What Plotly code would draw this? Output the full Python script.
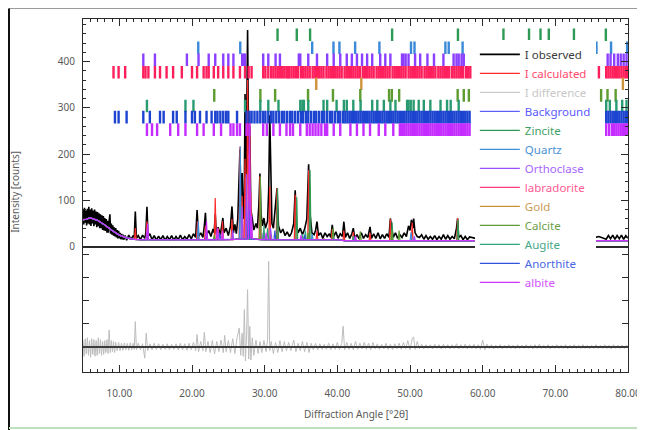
import plotly.graph_objects as go

# ---------------- data ----------------
bg_angle = list(range(5, 81))
bg_counts = [58, 62, 57, 47, 35, 25, 19, 16, 15, 15, 15, 15, 15, 15, 15, 15, 15, 15, 15, 15, 15,
             16, 17, 17, 16, 15, 15, 15, 15, 15, 15, 15, 15, 15, 15, 15,
             13, 13, 13, 13, 13, 13, 13, 13, 13, 13, 13, 13, 13, 13, 13, 13, 13, 13, 13, 13,
             13, 13, 13, 13, 13, 13, 13, 13, 13, 13, 13, 13, 13, 13, 13, 13, 13, 13, 13, 13]

observed_pts = [
    (5.0, 80), (5.1, 48), (5.2, 84), (5.3, 52), (5.4, 78), (5.5, 46), (5.6, 82), (5.7, 50), (5.8, 86), (5.9, 48),
    (6.0, 80), (6.1, 45), (6.2, 83), (6.3, 50), (6.4, 78), (6.5, 44), (6.6, 80), (6.7, 48), (6.8, 76), (6.9, 42),
    (7.0, 75), (7.1, 44), (7.2, 72), (7.3, 40), (7.4, 70), (7.5, 40), (7.6, 68), (7.7, 36), (7.8, 66), (7.9, 35),
    (8.0, 62), (8.1, 34), (8.2, 60), (8.3, 30), (8.4, 56), (8.5, 30), (8.6, 55), (8.7, 70), (8.8, 28), (8.9, 50),
    (9.0, 26), (9.1, 46), (9.2, 24), (9.3, 42), (9.4, 22), (9.5, 40), (9.6, 20), (9.7, 36), (9.8, 18), (9.9, 34),
    (10.0, 18), (10.1, 30), (10.2, 16), (10.3, 28), (10.4, 16), (10.5, 26), (10.6, 15), (10.8, 24), (11.0, 14),
    (11.3, 25), (11.6, 15), (11.9, 24), (12.05, 20), (12.2, 76), (12.35, 18), (12.6, 24), (12.9, 15), (13.2, 25),
    (13.5, 18), (13.65, 30), (13.8, 86), (13.95, 22), (14.2, 28), (14.5, 15), (14.8, 24), (15.1, 14), (15.4, 23),
    (15.7, 15), (16.0, 24), (16.3, 14), (16.6, 22), (16.9, 15), (17.2, 24), (17.5, 14), (17.8, 22), (18.1, 15),
    (18.4, 25), (18.7, 15), (19.0, 22), (19.3, 16), (19.6, 26), (19.9, 17), (20.2, 28), (20.5, 20), (20.7, 79),
    (20.9, 22), (21.2, 30), (21.5, 20), (21.7, 45), (21.85, 73), (22.0, 25), (22.3, 35), (22.6, 22), (22.9, 38),
    (23.05, 30), (23.2, 70), (23.35, 28), (23.6, 42), (23.9, 26), (24.1, 50), (24.25, 62), (24.4, 30), (24.7, 40),
    (25.0, 24), (25.3, 45), (25.5, 87), (25.7, 30), (25.9, 48), (26.1, 28), (26.3, 60), (26.45, 150), (26.6, 210),
    (26.75, 90), (26.9, 159), (27.05, 60), (27.2, 120), (27.3, 330), (27.45, 150), (27.65, 468), (27.8, 200),
    (27.95, 260), (28.1, 80), (28.3, 60), (28.5, 36), (28.8, 50), (29.0, 40), (29.2, 90), (29.35, 158), (29.5, 70),
    (29.7, 45), (29.9, 62), (30.1, 40), (30.4, 55), (30.55, 120), (30.7, 284), (30.85, 110), (31.0, 50), (31.2, 40),
    (31.45, 80), (31.7, 126), (31.9, 45), (32.2, 30), (32.5, 38), (32.8, 24), (33.1, 32), (33.4, 22), (33.7, 30),
    (34.0, 50), (34.2, 122), (34.4, 45), (34.6, 30), (34.9, 40), (35.2, 26), (35.5, 38), (35.8, 60), (36.05, 178),
    (36.25, 70), (36.5, 30), (36.8, 26), (37.0, 35), (37.2, 54), (37.4, 24), (37.7, 30), (38.0, 18), (38.3, 30),
    (38.6, 22), (38.9, 28), (39.1, 20), (39.3, 47), (39.5, 22), (39.8, 32), (40.1, 18), (40.4, 28), (40.7, 22),
    (40.9, 54), (41.1, 20), (41.4, 30), (41.7, 18), (42.0, 28), (42.2, 40), (42.4, 18), (42.7, 26), (43.0, 17),
    (43.3, 30), (43.6, 18), (43.9, 26), (44.2, 20), (44.5, 43), (44.7, 18), (45.0, 28), (45.3, 18), (45.6, 30),
    (45.9, 17), (46.2, 26), (46.5, 18), (46.8, 28), (47.1, 20), (47.3, 61), (47.5, 38), (47.7, 20), (48.0, 30),
    (48.3, 18), (48.6, 26), (48.9, 20), (49.2, 30), (49.5, 22), (49.8, 45), (50.0, 35), (50.2, 58), (50.4, 40),
    (50.5, 61), (50.7, 30), (51.0, 22), (51.3, 20), (51.6, 26), (51.9, 16), (52.2, 24), (52.5, 16), (52.8, 22),
    (53.1, 16), (53.4, 24), (53.7, 15), (54.0, 22), (54.3, 16), (54.6, 26), (54.9, 16), (55.2, 24), (55.5, 16),
    (55.8, 22), (56.1, 17), (56.4, 40), (56.55, 61), (56.7, 20), (57.0, 24), (57.3, 15), (57.6, 22), (57.9, 15),
    (58.2, 21), (59, 18), (60, 22), (61, 16), (62, 24), (63, 18), (64, 20), (65, 16), (66, 22), (67, 18), (68, 24),
    (69, 16), (70, 20), (71, 18), (72, 22), (73, 16), (74, 20), (75, 18), (76, 22), (77, 16), (77.3, 24), (77.6, 17),
    (77.9, 25), (78.2, 16), (78.5, 24), (78.8, 17), (79.1, 25), (79.4, 16), (79.7, 24), (80.0, 18),
]

calc_peak_angle = [12.2, 13.8, 20.75, 21.85, 23.2, 24.2, 25.5, 26.6, 26.9, 27.3, 27.65, 27.95, 29.35, 30.7,
                   31.7, 34.2, 36.05, 37.2, 39.3, 40.9, 42.2, 44.5, 47.3, 50.3, 56.55, 62.86, 67.96]
calc_peak_counts = [40, 55, 55, 45, 105, 55, 60, 216, 110, 190, 360, 280, 152, 130,
                    126, 112, 165, 35, 38, 35, 32, 30, 60, 52, 62, 50, 40]

difference_pts = [
    (5.0, 15), (5.15, -20), (5.3, 18), (5.45, -15), (5.6, 20), (5.75, -18), (5.9, 14), (6.05, -22), (6.2, 18),
    (6.35, -16), (6.5, 16), (6.65, -20), (6.8, 14), (6.95, -18), (7.1, 20), (7.25, -14), (7.4, 16), (7.55, -18),
    (7.7, 12), (7.85, -16), (8.0, 14), (8.15, -12), (8.3, 16), (8.45, -14), (8.6, 37), (8.75, -12), (8.9, 14),
    (9.05, -10), (9.2, 12), (9.35, -12), (9.5, 10), (9.7, -8), (9.9, 10), (10.1, -8), (10.3, 8), (10.5, -7),
    (10.7, 9), (10.9, -6), (11.1, 8), (11.3, -7), (11.5, 9), (11.7, -6), (11.9, 8), (12.05, -5), (12.2, 55),
    (12.35, -6), (12.6, 8), (12.9, -6), (13.2, 7), (13.5, -24), (13.7, 30), (13.9, -8), (14.2, 7), (14.5, -6),
    (14.8, 8), (15.1, -5), (15.4, 7), (15.7, -6), (16.0, 6), (16.3, -5), (16.6, 7), (16.9, -6), (17.2, 6),
    (17.5, -5), (17.8, 7), (18.1, -6), (18.4, 8), (18.7, -6), (19.0, 7), (19.3, -7), (19.6, 8), (19.9, -6),
    (20.2, 10), (20.5, -8), (20.7, 27), (20.9, -10), (21.2, 12), (21.5, -8), (21.7, 32), (21.9, -10), (22.2, 12),
    (22.5, -12), (22.8, 14), (23.1, -15), (23.4, 12), (23.7, -10), (24.0, 15), (24.3, -12), (24.5, 25), (24.7, -10),
    (25.0, 14), (25.3, -12), (25.6, 18), (25.9, -14), (26.2, 20), (26.5, 41), (26.7, -18), (26.9, 30), (27.05, -20),
    (27.2, 81), (27.35, -30), (27.5, 20), (27.65, 124), (27.8, -26), (27.95, 45), (28.1, -28), (28.3, 20),
    (28.5, -18), (28.8, 15), (29.1, -14), (29.35, 12), (29.6, -12), (29.9, 14), (30.2, -10), (30.4, 16),
    (30.55, 185), (30.7, -8), (30.9, 12), (31.2, -14), (31.5, 10), (31.8, -12), (32.1, 14), (32.4, -10), (32.7, 12),
    (33.0, -8), (33.3, 10), (33.6, -8), (34.0, 15), (34.3, -10), (34.6, 8), (34.9, -8), (35.2, 12), (35.5, -10),
    (35.8, 10), (36.1, -12), (36.4, 8), (36.7, -6), (37.0, 8), (37.3, -6), (37.6, 7), (37.9, -5), (38.2, 6),
    (38.5, -5), (38.8, 8), (39.1, -6), (39.4, 7), (39.7, -5), (40.0, 10), (40.3, -6), (40.6, 8), (40.8, 45),
    (41.0, -6), (41.3, 10), (41.6, -5), (41.9, 8), (42.2, -6), (42.5, 12), (42.8, -5), (43.1, 8), (43.4, -4),
    (43.7, 10), (44.0, -5), (44.3, 8), (44.6, -6), (44.9, 10), (45.2, -4), (45.5, 7), (45.8, -5), (46.1, 6),
    (46.4, -4), (46.7, 8), (47.0, -5), (47.3, 6), (47.6, -6), (47.9, 7), (48.2, -4), (48.5, 8), (48.8, -5),
    (49.1, 10), (49.4, -4), (49.7, 14), (50.0, -6), (50.3, 18), (50.5, 22), (50.7, -5), (51.0, 12), (51.3, -4),
    (51.6, 6), (51.9, -4), (52.2, 5), (52.5, -3), (52.8, 5), (53.1, -4), (53.4, 6), (53.7, -3), (54.0, 5),
    (54.3, -4), (54.6, 6), (54.9, -3), (55.2, 5), (55.5, -4), (55.8, 5), (56.1, -3), (56.4, 7), (56.7, -4),
    (57.0, 5), (57.3, -3), (57.6, 6), (57.9, -4), (58.2, 5), (58.5, -3), (58.8, 6), (59.1, -4), (59.4, 5),
    (59.7, -5), (60.0, 15), (60.3, -6), (60.6, 6), (60.9, -3), (61.2, 5), (61.5, -4), (61.8, 4), (62.1, -3),
    (62.4, 5), (62.7, -4), (63.0, 4), (63.3, -3), (63.6, 5), (63.9, -3), (64.2, 4), (64.5, -4), (64.8, 5),
    (65.1, -3), (65.4, 4), (65.7, -3), (66.0, 5), (66.3, -3), (66.6, 4), (66.9, -4), (67.2, 5), (67.5, -3),
    (67.8, 6), (68.1, -3), (68.4, 4), (68.7, -3), (69.0, 5), (69.3, -4), (69.6, 4), (69.9, -3), (70.2, 5),
    (70.5, -3), (70.8, 4), (71.1, -3), (71.4, 5), (71.7, -4), (72.0, 4), (72.3, -3), (72.6, 5), (72.9, -3),
    (73.2, 4), (73.5, -3), (73.8, 5), (74.1, -3), (74.4, 4), (74.7, -4), (75.0, 4), (75.3, -3), (75.6, 5),
    (75.9, -3), (76.2, 4), (76.5, -3), (76.8, 5), (77.1, -3), (77.4, 4), (77.7, -4), (78.0, 5), (78.3, -3),
    (78.6, 4), (78.9, -3), (79.2, 4), (79.5, -3), (79.8, 4), (80.0, 0),
]

phase_names = ["Zincite", "Quartz", "Orthoclase", "labradorite", "Gold", "Calcite", "Augite", "Anorthite", "albite"]

# profile peaks of each phase (angle, height above background)
phase_peak_angle = {
    "Zincite": [31.77, 34.42, 36.25, 47.54, 56.60, 62.86, 67.96, 69.1],
    "Quartz": [20.86, 26.64, 36.54, 39.47, 42.45, 50.14, 59.96, 67.74],
    "Orthoclase": [13.8, 23.5, 25.6, 26.9, 27.5, 29.8, 30.8, 50.6],
    "labradorite": [13.9, 22.0, 23.6, 27.9, 28.1, 30.2, 35.5],
    "Gold": [38.2, 44.4],
    "Calcite": [23.06, 29.41, 35.97, 39.4, 43.16, 47.5, 48.5],
    "Augite": [29.9, 30.4, 35.2, 35.6, 42.2],
    "Anorthite": [13.9, 22.0, 23.8, 27.8, 28.0, 31.4, 35.5],
    "albite": [13.9, 22.0, 23.5, 24.2, 27.9, 28.2, 30.2, 35.0, 42.5],
}
phase_peak_height = {
    "Zincite": [110, 92, 150, 40, 45, 35, 28, 14],
    "Quartz": [40, 200, 12, 10, 8, 18, 12, 10],
    "Orthoclase": [20, 25, 20, 70, 140, 15, 25, 10],
    "labradorite": [15, 20, 25, 150, 100, 10, 8],
    "Gold": [2, 1],
    "Calcite": [10, 135, 15, 25, 20, 22, 22],
    "Augite": [30, 25, 12, 20, 10],
    "Anorthite": [15, 20, 15, 80, 60, 20, 10],
    "albite": [35, 40, 25, 20, 245, 50, 15, 10, 10],
}

# reflection (hkl) marker positions of each phase
reflections = {
    "Zincite": [31.77, 34.42, 36.25, 47.54, 56.60, 62.86, 66.38, 67.96, 69.10, 72.56, 76.95],
    "Quartz": [20.86, 26.64, 36.54, 39.47, 40.29, 42.45, 45.79, 50.14, 50.62, 54.87, 55.33, 57.24, 59.96,
               63.99, 67.74, 68.14, 68.31, 73.47, 75.66, 77.67, 79.88],
    "Orthoclase": [13.3, 14.9, 19.3, 20.9, 22.3, 23.2, 24.3, 25.0, 25.7, 26.9, 27.1, 27.3, 29.8, 30.5, 31.5,
                   32.1, 34.7, 34.9, 36.0, 37.2, 38.6, 39.5, 40.4, 41.3, 42.0, 42.7, 43.4, 44.1, 44.8, 45.9,
                   46.6, 47.3, 48.9, 49.1, 49.4, 49.8, 50.7, 51.4, 52.4, 53.3, 54.6, 56.0, 56.4, 56.7, 57.1,
                   57.4, 60.0, 62.5, 65.0, 68.0, 71.0, 74.0, 77.2, 77.6, 78.1, 78.6, 79.0, 79.4, 79.8],
    "labradorite": [9.2, 9.9, 10.8, 13.3, 13.6, 14.0, 14.9, 15.6, 16.5, 17.4, 18.6, 20.0, 20.7, 21.6, 22.0,
                    22.3, 23.0, 23.6, 24.3, 25.0, 25.7, 26.6, 27.3, 27.8, 28.2, 29.8, 30.1, 30.5, 30.9, 31.2,
                    31.5, 31.8, 32.1, 32.4, 32.7, 33.0, 33.2, 33.4, 33.7, 34.0, 34.3, 34.6, 35.0, 35.3, 35.6,
                    35.9, 36.2, 36.6, 36.9, 37.2, 37.5, 37.8, 38.1, 38.5, 38.8, 39.1, 39.4, 39.7, 40.0, 40.3,
                    40.6, 41.0, 41.3, 41.6, 41.9, 42.2, 42.5, 42.8, 43.1, 43.5, 43.8, 44.1, 44.4, 44.7, 45.0,
                    45.4, 45.7, 46.0, 46.3, 46.6, 46.9, 47.2, 47.6, 47.9, 48.2, 48.5, 48.8, 49.1, 49.4, 49.8,
                    50.1, 50.4, 50.7, 51.0, 51.3, 51.6, 52.0, 52.3, 52.6, 52.9, 53.2, 53.5, 53.9, 54.2, 54.5,
                    54.8, 55.1, 55.4, 55.8, 56.1, 56.4, 56.7, 57.0, 57.3, 57.7, 58.0, 58.3, 61.0, 64.0, 67.0,
                    70.0, 73.0, 76.0, 77.0, 77.3, 77.6, 77.9, 78.2, 78.5, 78.8, 79.1, 79.4, 79.7, 80.0],
    "Gold": [37.1, 43.3, 64.0, 79.3],
    "Calcite": [23.06, 29.41, 31.44, 35.97, 39.40, 43.16, 47.12, 47.50, 48.51, 56.56, 57.40, 58.10, 60.67,
                61.35, 63.05, 64.67, 65.60, 69.20, 70.24, 72.94, 73.70, 76.30, 77.18, 78.30],
    "Augite": [13.8, 19.1, 20.2, 27.3, 29.4, 30.5, 31.9, 34.9, 35.2, 35.4, 36.0, 38.1, 38.6, 39.9, 40.9,
               41.3, 42.2, 43.2, 44.8, 45.5, 46.4, 47.3, 48.0, 49.6, 49.8, 50.1, 50.5, 51.2, 51.9, 52.8,
               54.2, 55.1, 55.6, 56.7, 60.5, 64.0, 70.0, 77.0, 77.5, 78.4, 79.2, 79.8],
    "Anorthite": [9.4, 9.9, 11.0, 13.3, 14.2, 15.6, 16.1, 17.4, 17.9, 19.1, 20.0, 20.4, 21.1, 22.0, 22.7,
                  23.2, 23.5, 23.9, 24.3, 24.7, 25.0, 26.2, 27.5, 27.9, 28.2, 28.6, 29.0, 29.4, 29.8, 30.1,
                  30.5, 30.9, 31.2, 31.6, 32.0, 32.4, 32.7, 33.1, 33.5, 33.8, 34.2, 34.6, 35.0, 35.3, 35.7,
                  36.0, 36.4, 36.8, 37.1, 37.5, 37.9, 38.2, 38.6, 39.0, 39.3, 39.7, 40.1, 40.4, 40.8, 41.1,
                  41.4, 41.7, 42.0, 42.3, 42.6, 42.9, 43.2, 43.5, 43.8, 44.1, 44.4, 44.7, 45.0, 45.3, 45.6,
                  45.9, 46.2, 46.5, 46.8, 47.1, 47.4, 47.7, 48.0, 48.3, 48.6, 48.9, 49.2, 49.5, 49.8, 50.1,
                  50.4, 50.7, 51.0, 51.3, 51.6, 51.9, 52.2, 52.5, 52.8, 53.1, 53.4, 53.7, 54.0, 54.3, 54.6,
                  54.9, 55.2, 55.5, 55.8, 56.1, 56.4, 56.7, 57.0, 57.3, 57.6, 57.9, 58.2, 62.0, 66.0, 70.0,
                  74.0, 77.0, 77.3, 77.6, 77.9, 78.2, 78.5, 78.8, 79.1, 79.4, 79.7, 80.0],
    "albite": [13.8, 14.5, 15.2, 17.0, 18.1, 19.1, 20.7, 21.6, 23.0, 24.0, 25.3, 25.7, 26.2, 26.6, 27.5,
               27.9, 29.8, 30.3, 31.2, 32.1, 33.0, 33.5, 33.9, 34.9, 35.8, 36.2, 36.6, 37.0, 37.4, 37.8,
               38.3, 38.6, 39.5, 40.4, 41.8, 42.7, 43.6, 44.5, 45.7, 46.6, 47.7, 48.6, 48.9, 49.2, 49.5,
               49.8, 50.1, 50.4, 50.7, 51.0, 51.3, 51.6, 51.9, 52.2, 52.5, 52.8, 53.1, 53.4, 53.7, 54.0,
               54.3, 54.6, 54.9, 55.2, 55.5, 55.8, 56.1, 56.4, 56.7, 57.0, 57.3, 57.6, 57.9, 58.2, 62.0,
               66.0, 70.0, 74.0, 77.0, 77.4, 77.8, 78.1, 78.4, 78.7, 79.0, 79.3, 79.6, 79.9],
}

x_tick_values = [10, 20, 30, 40, 50, 60, 70, 80]
x_tick_labels = ["10.00", "20.00", "30.00", "40.00", "50.00", "60.00", "70.00", "80.00"]
y_tick_values = [0, 100, 200, 300, 400]
y_tick_labels = ["0", "100", "200", "300", "400"]

# ---------------- styles ----------------
colors = {
    "I observed": "#000000", "I calculated": "#ff2a2a", "I difference": "#bdbdbd", "Background": "#3a3aff",
    "Zincite": "#2e9a55", "Quartz": "#3d8fd8", "Orthoclase": "#9b4dff", "labradorite": "#ff3a78",
    "Gold": "#c8923c", "Calcite": "#5e9b34", "Augite": "#33a37c", "Anorthite": "#2f55dd", "albite": "#cc33ff",
}
text_colors = {
    "I observed": "#3a3a3a", "I calculated": "#ff4a6a", "I difference": "#c8c8c8", "Background": "#5a5aff",
    "Zincite": "#3f9f62", "Quartz": "#4a92d4", "Orthoclase": "#a866ff", "labradorite": "#ff5c92",
    "Gold": "#c99a55", "Calcite": "#6aa046", "Augite": "#45a888", "Anorthite": "#4a68e4", "albite": "#d452ff",
}
tick_colors = {
    "Zincite": "#2e9a55", "Quartz": "#3a8ad8", "Orthoclase": "#8c40ff", "labradorite": "#ff1f5c",
    "Gold": "#d0923c", "Calcite": "#5e9b30", "Augite": "#2a9a70", "Anorthite": "#1c44d0", "albite": "#c42cff",
}
# vertical level (top-panel counts) of each reflection row
row_level = {"Zincite": 458, "Quartz": 430, "Orthoclase": 404, "labradorite": 377, "Gold": 352,
             "Calcite": 327, "Augite": 304, "Anorthite": 280, "albite": 253}
HALF = 0.12


def bg_at(a):
    i = min(range(len(bg_angle)), key=lambda k: abs(bg_angle[k] - a))
    return bg_counts[i]


def profile(peak_x, peak_y, absolute):
    pts = [(a, c) for a, c in zip(bg_angle, bg_counts)
           if all(abs(a - p) > HALF for p in peak_x)]
    for p, h in zip(peak_x, peak_y):
        b = bg_at(p)
        pts += [(p - HALF, b), (p, h if absolute else b + h), (p + HALF, b)]
    pts.sort()
    return [q[0] for q in pts], [q[1] for q in pts]


def lname(n):
    return '<span style="color:%s">%s</span>' % (text_colors[n], n)


fig = go.Figure()

fig.add_trace(go.Scatter(x=[p[0] for p in observed_pts], y=[p[1] for p in observed_pts], mode="lines",
                         name=lname("I observed"), line=dict(color=colors["I observed"], width=1.6)))
cx, cy = profile(calc_peak_angle, calc_peak_counts, True)
fig.add_trace(go.Scatter(x=cx, y=cy, mode="lines", name=lname("I calculated"),
                         line=dict(color=colors["I calculated"], width=1.2)))
fig.add_trace(go.Scatter(x=[p[0] for p in difference_pts], y=[p[1] for p in difference_pts], mode="lines",
                         name=lname("I difference"), line=dict(color=colors["I difference"], width=1),
                         xaxis="x2", yaxis="y2"))
fig.add_trace(go.Scatter(x=bg_angle, y=bg_counts, mode="lines", name=lname("Background"),
                         line=dict(color=colors["Background"], width=1)))
for n in phase_names:
    px_, py_ = profile(phase_peak_angle[n], phase_peak_height[n], False)
    fig.add_trace(go.Scatter(x=px_, y=py_, mode="lines", name=lname(n), legendgroup=n,
                             line=dict(color=colors[n], width=1.2)))

for n in phase_names:
    fig.add_trace(go.Scatter(x=reflections[n], y=[row_level[n]] * len(reflections[n]), mode="markers",
                             showlegend=False, legendgroup=n, hoverinfo="x",
                             marker=dict(symbol="line-ns", size=9,
                                         line=dict(color=tick_colors[n], width=2.4))))

# zero line of the difference panel
fig.add_shape(type="line", xref="x2", yref="y2", x0=5, x1=80, y0=0, y1=0,
              line=dict(color="#3c3c3c", width=2), layer="above")

axis_font = dict(family="Noto Sans, Open Sans, sans-serif", size=10, color="#5a5a5a")
frame = dict(showline=True, linecolor="#2a2a2a", linewidth=1, showgrid=False, zeroline=False,
             automargin=False)
xminor = dict(dtick=1, tick0=0, ticklen=3, ticks="inside", tickcolor="#2a2a2a")

# the page body adds an 8 px offset, so the figure is 8 px smaller than the window
fig.update_layout(
    width=637, height=422, margin=dict(l=75, r=17, t=11, b=58, autoexpand=False),
    paper_bgcolor="white", plot_bgcolor="white", showlegend=True,
    font=dict(family="Noto Sans, Open Sans, sans-serif", size=11, color="#444"),
    xaxis=dict(domain=[0, 1], range=[5, 80], anchor="y", side="top", mirror=True,
               ticks="inside", ticklen=7, tickcolor="#2a2a2a", tickvals=x_tick_values,
               showticklabels=False, minor=xminor, **frame),
    yaxis=dict(domain=[0.355, 1], range=[0, 492], anchor="x", mirror="ticks",
               ticks="inside", ticklen=7, tickcolor="#2a2a2a", tickvals=y_tick_values,
               ticktext=y_tick_labels, tickfont=axis_font, ticklabelstandoff=5,
               minor=dict(dtick=20, ticklen=3, ticks="inside", tickcolor="#2a2a2a"), **frame),
    xaxis2=dict(domain=[0, 1], range=[5, 80], anchor="y2", side="bottom", mirror=True,
                ticks="inside", ticklen=7, tickcolor="#2a2a2a", tickvals=x_tick_values,
                ticktext=x_tick_labels, tickfont=axis_font, ticklabelstandoff=12,
                minor=xminor, **frame),
    yaxis2=dict(domain=[0, 0.355], range=[-54, 217], anchor="x2", mirror="ticks",
                ticks="inside", ticklen=6, tickcolor="#2a2a2a", tickvals=[0, 50, 100, 150, 200],
                showticklabels=False, **frame),
    legend=dict(x=0.719, y=0.941, xanchor="left", yanchor="top", bgcolor="white",
                font=dict(family="Noto Sans, Open Sans, sans-serif", size=11.5),
                tracegroupgap=0, itemwidth=40, borderwidth=0),
)

fig.add_annotation(text="Intensity [counts]", xref="paper", yref="paper", x=-0.125, y=0.51,
                   textangle=-90, showarrow=False, font=axis_font, xanchor="center", yanchor="middle")
fig.add_annotation(text="Diffraction Angle [°2θ]", xref="paper", yref="paper", x=0.5, y=-0.119,
                   showarrow=False, font=axis_font, xanchor="center", yanchor="middle")

# window chrome around the screenshot
fig.add_shape(type="line", xref="paper", yref="paper", x0=-0.1358, x1=1.04, y0=1.0297, y1=1.0297,
              line=dict(color="#9a9a9a", width=1))
fig.add_shape(type="line", xref="paper", yref="paper", x0=-0.1358, x1=-0.1358, y0=1.0297, y1=-0.17,
              line=dict(color="#111111", width=2))
fig.add_shape(type="line", xref="paper", yref="paper", x0=-0.1358, x1=1.04, y0=-0.1586, y1=-0.1586,
              line=dict(color="#bfe0bf", width=2))

fig.write_html("out.html")
